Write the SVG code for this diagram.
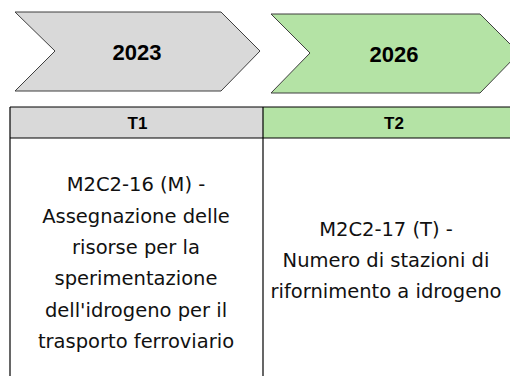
<svg xmlns="http://www.w3.org/2000/svg" width="510" height="376" viewBox="0 0 510 376">
<style>
.chev{stroke:#3f3f3f;stroke-width:1}
.gray{fill:#d9d9d9}
.green{fill:#b4e3a5}
.year{font-family:"Liberation Sans",Arial,sans-serif;font-weight:bold;font-size:22px;fill:#000;text-anchor:middle}
.hdr{font-family:"Liberation Sans",Arial,sans-serif;font-weight:bold;font-size:17px;fill:#000;text-anchor:middle}
.body{font-family:"DejaVu Sans",sans-serif;font-size:19.5px;fill:#111;text-anchor:middle}
.line{stroke:#000;stroke-width:1.2;fill:none}
</style>
<rect width="510" height="376" fill="#fff"/>
<g id="chevron-2023">
<polygon class="chev gray" points="15,12 221,12 260,51 221,91 15,91 55,51"/>
<text class="year" x="137" y="60">2023</text>
</g>
<g id="chevron-2026">
<polygon class="chev green" points="271,14 480,14 519,53 480,93 271,93 310,53"/>
<text class="year" x="394" y="62">2026</text>
</g>
<g id="header-T1">
<rect class="gray" x="10" y="107" width="253" height="31"/>
<text class="hdr" x="137.5" y="128.5">T1</text>
</g>
<g id="header-T2">
<rect class="green" x="263" y="107" width="260" height="31"/>
<text class="hdr" x="394" y="128.5">T2</text>
</g>
<g id="table-lines">
<line class="line" x1="10" y1="107" x2="510" y2="107"/>
<line class="line" x1="10" y1="138" x2="510" y2="138"/>
<line class="line" x1="10" y1="107" x2="10" y2="376"/>
<line class="line" x1="263" y1="107" x2="263" y2="376"/>
</g>
<g id="cell-T1">
<text class="body" x="136" y="191">M2C2-16 (M) -</text>
<text class="body" x="136" y="222.5">Assegnazione delle</text>
<text class="body" x="136" y="254">risorse per la</text>
<text class="body" x="136" y="285">sperimentazione</text>
<text class="body" x="136" y="316.5">dell'idrogeno per il</text>
<text class="body" x="136" y="348">trasporto ferroviario</text>
</g>
<g id="cell-T2">
<text class="body" x="386" y="236">M2C2-17 (T) -</text>
<text class="body" x="386" y="267">Numero di stazioni di</text>
<text class="body" x="386" y="298">rifornimento a idrogeno</text>
</g>
</svg>
